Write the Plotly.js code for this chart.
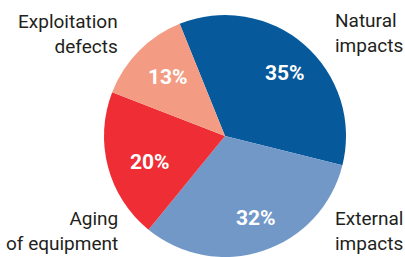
<!DOCTYPE html>
<html>
<head>
<meta charset="utf-8">
<script src="https://cdn.plot.ly/plotly-3.0.1.min.js"></script>
<style>html,body{margin:0;padding:0;background:#fff;}#chart{width:405px;height:257px;}</style>
</head>
<body>
<div id="chart"></div>
<script>
var categories = ["Natural impacts", "External impacts", "Aging of equipment", "Exploitation defects"];
var categoryLabels = ["Natural<br>impacts", "External<br>impacts", "Aging<br>of equipment", "Exploitation<br>defects"];
var shares = [35, 32, 20, 13];
var colors = ["#065a9b", "#7198c7", "#ee2d35", "#f39c83"];

var W = 405, H = 257;
var cx = 225, cy = 136, R = 121;
var FONT = "Roboto, sans-serif";

var trace = {
  type: "pie",
  labels: categories,
  values: shares,
  sort: false,
  direction: "clockwise",
  rotation: -22,
  marker: {colors: colors, line: {width: 0}},
  textinfo: "none",
  hoverinfo: "label+percent",
  showlegend: false,
  domain: {x: [(cx - R) / W, (cx + R) / W], y: [(H - cy - R) / H, (H - cy + R) / H]}
};

var labelPos = [
  {x: 333, y: 33, anchor: "left"},
  {x: 333, y: 231, anchor: "left"},
  {x: 120, y: 231, anchor: "right"},
  {x: 120, y: 34, anchor: "right"}
];
var pctPos = [
  {x: 285, y: 73},
  {x: 256, y: 218},
  {x: 150, y: 162},
  {x: 168, y: 77}
];

var annotations = categoryLabels.map(function (t, i) {
  return {
    text: t,
    x: labelPos[i].x / W,
    y: 1 - labelPos[i].y / H,
    xref: "paper", yref: "paper",
    xanchor: labelPos[i].anchor, yanchor: "middle",
    align: labelPos[i].anchor,
    showarrow: false,
    font: {family: FONT, size: 19, color: "#231f20"}
  };
}).concat(shares.map(function (v, i) {
  return {
    text: "<b>" + v + "%</b>",
    x: pctPos[i].x / W,
    y: 1 - pctPos[i].y / H,
    xref: "paper", yref: "paper",
    xanchor: "center", yanchor: "middle",
    showarrow: false,
    font: {family: FONT, size: 21, color: "#ffffff"}
  };
}));

var layout = {
  width: W, height: H,
  margin: {l: 0, r: 0, t: 0, b: 0},
  paper_bgcolor: "#ffffff",
  plot_bgcolor: "#ffffff",
  annotations: annotations,
  showlegend: false
};

Plotly.newPlot("chart", [trace], layout, {displayModeBar: false, staticPlot: true});
</script>
</body>
</html>
